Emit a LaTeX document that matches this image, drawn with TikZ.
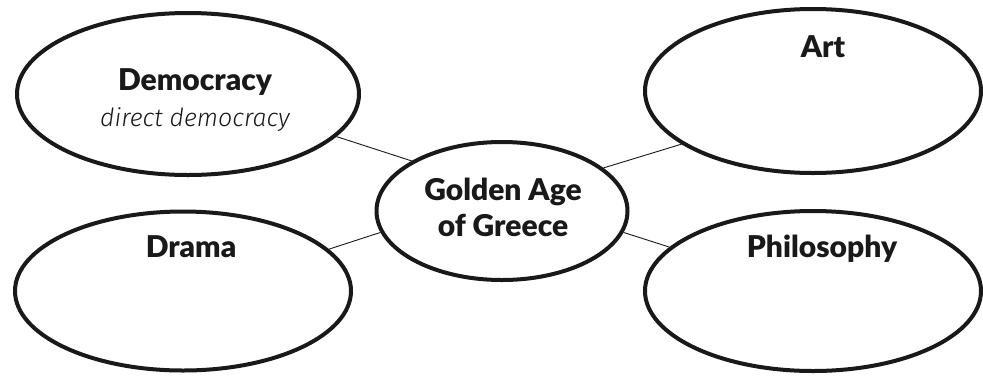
\documentclass[tikz,border=0pt]{standalone}
\usepackage{fontspec}
\setmainfont{Lato}[BoldFont={Lato Black}]
\newfontfamily\handfont{Fira Sans Light Italic}
\usetikzlibrary{shapes.geometric}
\begin{document}
\begin{tikzpicture}[x=1pt,y=-1pt,
  bubble/.style={draw=black!90, line width=4pt, ellipse, inner sep=0pt, fill=white},
  link/.style={draw=black!90, line width=0.9pt},
  lab/.style={anchor=base, font=\fontsize{30}{34}\selectfont\bfseries, text=black!90, inner sep=0pt},
  hand/.style={anchor=base, font=\fontsize{25}{30}\handfont, text=black!90, inner sep=0pt}]
\useasboundingbox (0,0) rectangle (983,376);
\fill[white] (0,0) rectangle (983,376);
\node[bubble, minimum width=342pt, minimum height=162pt] (demo) at (188,94) {};
\node[bubble, minimum width=336pt, minimum height=164pt] (art) at (813,91) {};
\node[bubble, minimum width=336pt, minimum height=159pt] (drama) at (183,291) {};
\node[bubble, minimum width=336pt, minimum height=160pt] (philo) at (813,291) {};
\node[bubble, minimum width=251pt, minimum height=138pt] (gold) at (502,211) {};
\draw[link] (demo.-16) -- (gold.151);
\draw[link] (drama.16) -- (gold.190);
\draw[link] (art.202) -- (gold.23);
\draw[link] (philo.163) -- (gold.-10);
\node[lab] (tdemo) at (195,90) {Democracy};
\node[hand] (tdirect) at (195,126) {direct democracy};
\node[lab] (tart) at (823,57) {Art};
\node[lab] (tdrama) at (191,257) {Drama};
\node[lab] (tphilo) at (822,257) {Philosophy};
\node[lab] (tgold1) at (503,200) {Golden Age};
\node[lab] (tgold2) at (503,236) {of Greece};
\end{tikzpicture}
\end{document}
